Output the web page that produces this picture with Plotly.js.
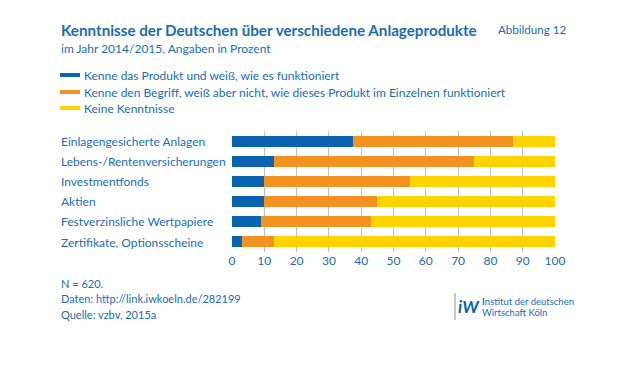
<!DOCTYPE html>
<html><head><meta charset="utf-8">
<script src="https://cdn.plot.ly/plotly-3.0.1.min.js"></script>
<style>body{margin:0;background:#fff}#c{width:621px;height:383px}</style>
</head><body><div id="c"></div>
<script>
const categories = ["Einlagengesicherte Anlagen","Lebens-/Rentenversicherungen","Investmentfonds","Aktien","Festverzinsliche Wertpapiere","Zertifikate, Optionsscheine"];
const seriesNames = ["Kenne das Produkt und weiß, wie es funktioniert","Kenne den Begriff, weiß aber nicht, wie dieses Produkt im Einzelnen funktioniert","Keine Kenntnisse"];
const known = [37.5, 13, 10, 10, 9, 3];
const heard = [49.5, 62, 45, 35, 34, 10];
const none = [13, 25, 45, 55, 57, 87];
const tickVals = [0,10,20,30,40,50,60,70,80,90,100];
const colors = ["#0a63b1","#f39220","#ffd400"];
const txt = "#1b6cb5";
const FONT = "Lato, sans-serif";

const W=621,H=383, L=232, R=555, T=131, B=252;
const px = x => (x-L)/(R-L);
const py = y => (B-y)/(B-T);

const vals=[known,heard,none];
const data = vals.map((v,i)=>({type:'bar',orientation:'h',x:v,y:categories,name:seriesNames[i],
  marker:{color:colors[i],line:{width:0}},width:0.55,showlegend:false,hoverinfo:'skip'}));

const ann=[], shapes=[];
const A=(x,y,t,o)=>ann.push(Object.assign({xref:'paper',yref:'paper',x:px(x),y:py(y),text:t,showarrow:false,xanchor:'left',yanchor:'middle',font:{family:FONT,size:12,color:txt}},o||{}));
A(59,30,"<b>Kenntnisse der Deutschen über verschiedene Anlageprodukte</b>",{font:{family:FONT,size:15.2,color:txt}});
A(496,30,"Abbildung 12",{font:{family:FONT,size:11.6,color:txt}});
A(59,48,"im Jahr 2014/2015, Angaben in Prozent",{font:{family:FONT,size:12,color:txt}});
[75,92,108].forEach((y,i)=>{
  shapes.push({type:'line',xref:'paper',yref:'paper',x0:px(60),x1:px(80),y0:py(y),y1:py(y),line:{color:colors[i],width:4}});
  A(82,y,seriesNames[i],{font:{family:FONT,size:12,color:txt}});
});
categories.forEach((c,i)=>A(59,141+i*20.2,c,{font:{family:FONT,size:12,color:txt}}));
A(59,283,"N = 620.",{font:{family:FONT,size:11,color:txt}});
A(59,298,"Daten: http://link.iwkoeln.de/282199",{font:{family:FONT,size:11,color:txt}});
A(59,314,"Quelle: vzbv, 2015a",{font:{family:FONT,size:11,color:txt}});
// logo
shapes.push({type:'line',xref:'paper',yref:'paper',x0:px(455),x1:px(455),y0:py(293),y1:py(320),line:{color:'#c8c8c8',width:2}});
A(456,306,"<b><i>iW</i></b>",{font:{family:FONT,size:17,color:'#0a63b1'}});
A(480,301,"<b>I</b>nstitut der deutschen",{font:{family:FONT,size:9.5,color:txt}});
A(480,312,"Wirtschaft Köln",{font:{family:FONT,size:9.5,color:txt}});

const layout={width:W,height:H,margin:{l:L,r:W-R,t:T,b:H-B,pad:0},
  paper_bgcolor:'#fff',plot_bgcolor:'#fff',barmode:'stack',bargap:0.45,
  xaxis:{range:[0,100],tickvals:tickVals,showgrid:true,gridcolor:'#b9c3d3',gridwidth:1,zeroline:false,
    showline:false,ticks:'',tickfont:{family:FONT,size:12,color:txt},fixedrange:true},
  yaxis:{autorange:'reversed',showticklabels:false,showgrid:false,zeroline:false,ticks:'',fixedrange:true},
  annotations:ann,shapes:shapes,showlegend:false};
Plotly.newPlot('c',data,layout,{displayModeBar:false,staticPlot:true});
</script></body></html>
